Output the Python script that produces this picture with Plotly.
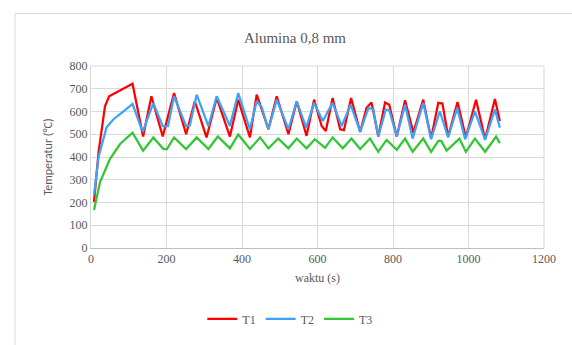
import plotly.graph_objects as go

# T1 (red)
t1 = [8, 20, 37, 48, 110, 138, 160, 190, 220, 252, 275, 306, 333, 368, 390, 421, 439, 470, 492, 523,
      545, 571, 591, 611, 622, 640, 660, 670, 689, 713, 730, 743, 761, 779, 790, 810, 832, 854, 880,
      901, 920, 931, 946, 971, 993, 1020, 1044, 1070, 1083]
T1 = [203, 420, 623, 667, 722, 490, 667, 490, 681, 500, 645, 486, 660, 490, 652, 486, 674, 522, 667, 500,
      645, 493, 652, 536, 514, 659, 522, 518, 659, 510, 616, 640, 490, 640, 630, 490, 649, 507, 652,
      481, 638, 635, 490, 642, 486, 652, 478, 655, 558]

# T2 (blue)
t2 = [8, 20, 41, 59, 86, 110, 134, 138, 165, 190, 204, 220, 252, 262, 280, 311, 333, 368, 390, 421,
      439, 452, 470, 492, 523, 545, 570, 591, 614, 640, 664, 688, 713, 735, 748, 761, 781, 790, 810,
      832, 852, 880, 901, 924, 946, 970, 991, 1017, 1044, 1070, 1083]
T2 = [232, 400, 529, 565, 601, 633, 522, 515, 638, 536, 536, 667, 536, 539, 674, 536, 667, 536, 681, 522,
      645, 620, 522, 652, 522, 645, 529, 638, 558, 638, 536, 630, 510, 616, 609, 490, 609, 606, 490,
      630, 481, 638, 478, 601, 486, 616, 478, 601, 475, 609, 529]

# T3 (green)
t3 = [8, 24, 50, 77, 110, 130, 138, 165, 192, 201, 220, 252, 280, 311, 336, 368, 390, 421, 448, 470,
      496, 523, 545, 571, 593, 620, 640, 667, 690, 713, 739, 761, 783, 810, 832, 852, 880, 901, 920,
      928, 942, 976, 993, 1017, 1044, 1073, 1083]
T3 = [167, 290, 391, 457, 507, 449, 428, 486, 435, 435, 486, 435, 486, 435, 490, 438, 499, 435, 486, 438,
      481, 438, 481, 438, 478, 440, 486, 438, 481, 435, 481, 423, 475, 432, 481, 423, 481, 423, 471,
      471, 428, 481, 423, 481, 423, 490, 461]

x_ticks = [0, 200, 400, 600, 800, 1000, 1200]
y_ticks = [0, 100, 200, 300, 400, 500, 600, 700, 800]

serif = "Liberation Serif"
sans = "Carlito"
grey = "#595959"

fig = go.Figure()
fig.add_trace(go.Scatter(x=t1, y=T1, mode="lines", name="T1",
                         line=dict(color="#ff0000", width=2.25)))
fig.add_trace(go.Scatter(x=t2, y=T2, mode="lines", name="T2",
                         line=dict(color="#3ea3f8", width=2.25)))
fig.add_trace(go.Scatter(x=t3, y=T3, mode="lines", name="T3",
                         line=dict(color="#33c633", width=2.25)))

fig.update_layout(
    width=572, height=345,
    margin=dict(l=91, r=28, t=66, b=95),
    paper_bgcolor="white", plot_bgcolor="white",
    title=dict(text="Alumina 0,8 mm", x=(295 / 572), xanchor="center", y=1 - 38 / 345, yanchor="middle",
               font=dict(family=serif, size=15, color=grey)),
    font=dict(family=serif, size=12, color=grey),
    showlegend=True,
    legend=dict(orientation="h", x=0.44, xanchor="center", y=-0.39, yanchor="middle",
                font=dict(family=serif, size=12, color=grey), itemwidth=30,
                bgcolor="rgba(0,0,0,0)"),
    xaxis=dict(range=[0, 1200], tickvals=x_ticks, showgrid=True, gridcolor="#d9d9d9", gridwidth=1,
               showline=True, linecolor="#bfbfbf", linewidth=1, mirror=False, zeroline=False,
               ticks="", tickfont=dict(family=serif, size=12, color=grey),
               title=dict(text="waktu (s)", font=dict(family=serif, size=12, color=grey), standoff=8)),
    yaxis=dict(range=[0, 800], tickvals=y_ticks, showgrid=True, gridcolor="#d9d9d9", gridwidth=1,
               showline=True, linecolor="#d9d9d9", linewidth=1, zeroline=False, ticks="",
               tickfont=dict(family=serif, size=12, color=grey),
               title=dict(text="Temperatur (°C)", font=dict(family=sans, size=12, color=grey), standoff=14)),
    shapes=[
        dict(type="rect", xref="paper", yref="paper", x0=(15 - 91) / 453, x1=1.2,
             y0=-0.7, y1=(250 - 13) / 184, line=dict(color="#d9d9d9", width=1), layer="below"),
        dict(type="line", xref="paper", yref="paper", x0=1, x1=1, y0=0, y1=1,
             line=dict(color="#d9d9d9", width=1)),
        dict(type="line", xref="paper", yref="paper", x0=0, x1=1, y0=1, y1=1,
             line=dict(color="#d9d9d9", width=1)),
    ],
)

fig.write_html("out.html")
